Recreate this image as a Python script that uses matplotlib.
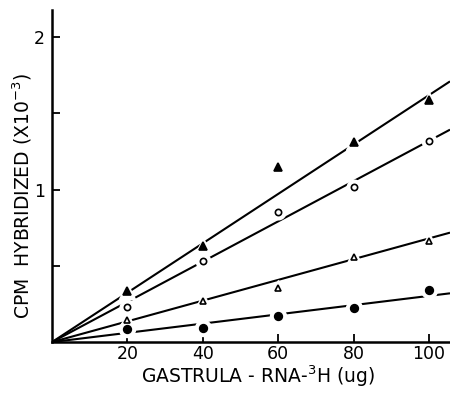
import matplotlib
matplotlib.use("Agg")
import matplotlib.pyplot as plt
import numpy as np

rna_ug = [20, 40, 60, 80, 100]
filled_tri = [0.335, 0.63, 1.15, 1.31, 1.59]
open_circ = [0.23, 0.53, 0.855, 1.02, 1.32]
open_tri = [0.145, 0.27, 0.355, 0.56, 0.66]
filled_circ = [0.085, 0.09, 0.17, 0.225, 0.34]
# fitted line values at 100 ug, lines pass through origin
fit_at_100 = [1.62, 1.32, 0.68, 0.303]

x_ticks = [20, 40, 60, 80, 100]
y_ticks = [0.5, 1, 1.5, 2]
y_ticklabels = ["", "1", "", "2"]

fig = plt.figure(figsize=(4.5, 3.95), dpi=100)
ax = fig.add_axes([0.1156, 0.134, 0.8844, 0.841])
ax.set_xlim(0, 105.6)
ax.set_ylim(0, 2.18)

series = [
    (filled_tri, '^', 'black', 5.5),
    (open_circ, 'o', 'white', 4.5),
    (open_tri, '^', 'white', 5.0),
    (filled_circ, 'o', 'black', 5.5),
]
xl = np.array([0, 105.6])
for (ys, mk, fc, ms), v100 in zip(series, fit_at_100):
    ax.plot(xl, xl * v100 / 100, color='black', lw=1.5, zorder=2, solid_capstyle='butt')
    ax.plot(rna_ug, ys, linestyle='none', marker=mk, ms=ms + 6, mfc='white', mec='white', zorder=3)
    ax.plot(rna_ug, ys, linestyle='none', marker=mk, ms=ms, mfc=fc, mec='black', mew=1.2, zorder=4)

for s in ['top', 'right']:
    ax.spines[s].set_visible(False)
for s in ['left', 'bottom']:
    ax.spines[s].set_linewidth(1.8)

ax.set_xticks(x_ticks)
ax.set_xticklabels([str(t) for t in x_ticks])
ax.set_yticks(y_ticks)
ax.set_yticklabels(y_ticklabels)
ax.tick_params(direction='in', length=6, width=1.3, labelsize=12.5)
ax.tick_params(axis='x', pad=2)
ax.tick_params(axis='y', pad=5)

fig.text(258 / 450, 1 - 376 / 395, "GASTRULA - RNA-$^{3}$H (ug)", fontsize=13.5,
         ha='center', va='center')
fig.text(22 / 450, 1 - 196 / 395, "CPM  HYBRIDIZED (X10$^{-3}$)", fontsize=13.5,
         ha='center', va='center', rotation=90)

fig.savefig("out.png", dpi=100)
